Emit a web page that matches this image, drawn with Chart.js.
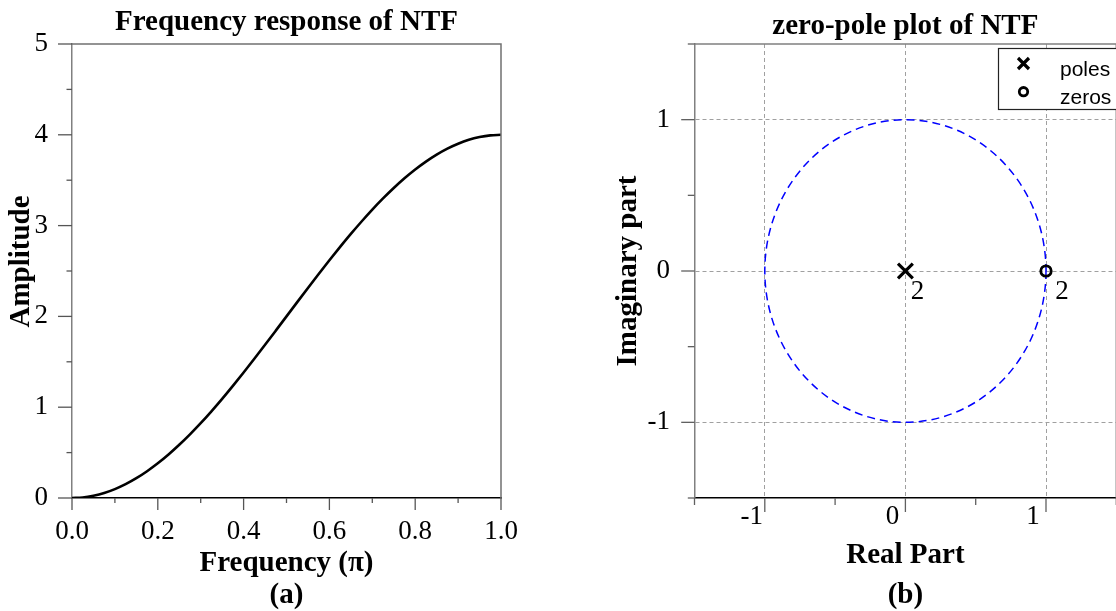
<!DOCTYPE html>
<html>
<head>
<meta charset="utf-8">
<title>NTF</title>
<script src="https://cdn.jsdelivr.net/npm/chart.js@4.4.0/dist/chart.umd.min.js"></script>
<style>
html, body { margin: 0; padding: 0; background: #fff; overflow: hidden; width: 1116px; height: 611px; }
#boxA { position: absolute; left: 0; top: 0; width: 560px; height: 620px; }
#boxB { position: absolute; left: 560px; top: 0; width: 570px; height: 620px; }
</style>
</head>
<body>
<div id="boxA"><canvas id="chartA"></canvas></div>
<div id="boxB"><canvas id="chartB"></canvas></div>
<script>
// (a) frequency response of NTF
const freq = [0, 0.025, 0.05, 0.075, 0.1, 0.125, 0.15, 0.175, 0.2, 0.225, 0.25,
              0.275, 0.3, 0.325, 0.35, 0.375, 0.4, 0.425, 0.45, 0.475, 0.5,
              0.525, 0.55, 0.575, 0.6, 0.625, 0.65, 0.675, 0.7, 0.725, 0.75,
              0.775, 0.8, 0.825, 0.85, 0.875, 0.9, 0.925, 0.95, 0.975, 1.0];
const amplitude = [0, 0.006, 0.025, 0.055, 0.098, 0.152, 0.218, 0.295, 0.382, 0.479, 0.586,
                   0.701, 0.824, 0.955, 1.092, 1.235, 1.382, 1.533, 1.687, 1.843, 2.000,
                   2.157, 2.313, 2.467, 2.618, 2.765, 2.908, 3.045, 3.176, 3.299, 3.414,
                   3.521, 3.618, 3.705, 3.782, 3.848, 3.902, 3.945, 3.975, 3.994, 4.000];
const freqTicks = [0, 0.2, 0.4, 0.6, 0.8, 1.0];
const freqMinor = [0.1, 0.3, 0.5, 0.7, 0.9];
const ampTicks = [0, 1, 2, 3, 4, 5];
const ampMinor = [0.5, 1.5, 2.5, 3.5, 4.5];

// (b) zero-pole plot
const poleRe = [0];
const poleIm = [0];
const poleMult = [2];
const zeroRe = [1];
const zeroIm = [0];
const zeroMult = [2];
const unitCircle = [0, 0, 1];   // centre re, centre im, radius
const reTicks = [-1, 0, 1];
const reMinor = [-1.5, -0.5, 0.5, 1.5];
const imTicks = [-1, 0, 1];
const imMinor = [-1.5, -0.5, 0.5, 1.5];

const serif = 'Liberation Serif';
Chart.defaults.font.family = serif;
Chart.defaults.color = '#000';

// top/right frame, major+minor tick marks, extra text
function axisFrame(cfg) {
  return {
    id: 'axisFrame',
    afterDraw(chart) {
      const {ctx, chartArea: a, scales: {x, y}} = chart;
      ctx.save();
      ctx.setLineDash([]);
      ctx.lineWidth = 1.5;
      ctx.strokeStyle = cfg.frameColor;
      ctx.beginPath();
      ctx.moveTo(a.left, a.top);
      ctx.lineTo(a.right, a.top);
      ctx.lineTo(a.right, a.bottom);
      ctx.stroke();

      ctx.lineWidth = 1.3;
      ctx.strokeStyle = cfg.tickColor;
      const mark = (scale, values, len) => values.forEach(v => {
        const p = scale.getPixelForValue(v);
        ctx.beginPath();
        if (scale.isHorizontal()) {
          ctx.moveTo(p, a.bottom);
          ctx.lineTo(p, a.bottom + len);
        } else {
          ctx.moveTo(a.left, p);
          ctx.lineTo(a.left - len, p);
        }
        ctx.stroke();
      });
      mark(x, x.ticks.map(t => t.value), cfg.xMajor);
      mark(x, cfg.xMinorValues, cfg.xMinor);
      mark(y, y.ticks.map(t => t.value), cfg.yMajor);
      mark(y, cfg.yMinorValues, cfg.yMinor);

      (cfg.texts || []).forEach(t => {
        ctx.save();
        ctx.translate(t.x, t.y);
        ctx.rotate(t.rot || 0);
        ctx.font = t.font;
        ctx.fillStyle = '#000';
        ctx.textAlign = 'center';
        ctx.textBaseline = 'middle';
        ctx.fillText(t.text, 0, 0);
        ctx.restore();
      });
      ctx.restore();
    }
  };
}

const ticksFor = list => scale => { scale.ticks = list.map(v => ({value: v})); };

new Chart(document.getElementById('chartA'), {
  type: 'line',
  data: {
    datasets: [{
      label: 'NTF',
      data: freq.map((f, i) => ({x: f, y: amplitude[i]})),
      borderColor: '#000',
      borderWidth: 2.6,
      pointRadius: 0,
      cubicInterpolationMode: 'monotone',
      fill: false
    }]
  },
  options: {
    responsive: true,
    maintainAspectRatio: false,
    animation: false,
    events: [],
    layout: {padding: {left: 0, right: 59, top: 0, bottom: 0}},
    plugins: {
      legend: {display: false},
      tooltip: {enabled: false},
      title: {
        display: true, fullSize: false,
        text: 'Frequency response of NTF',
        color: '#000',
        font: {family: serif, size: 29, weight: 'bold', lineHeight: 1.2},
        padding: {top: 5.5, bottom: 3.7}
      }
    },
    scales: {
      x: {
        type: 'linear', min: 0, max: 1,
        afterBuildTicks: ticksFor(freqTicks),
        afterFit: s => { s.height = 122; },
        ticks: {callback: v => v.toFixed(1), font: {size: 27}, color: '#000', padding: 17.5, maxRotation: 0, autoSkip: false},
        grid: {display: false, drawTicks: false},
        border: {color: '#000', width: 1.5},
        title: {
          display: true, text: ['Frequency (π)', '(a)'], color: '#000',
          font: {size: 29, weight: 'bold', lineHeight: 32 / 29},
          padding: {top: 0, bottom: 8}
        }
      },
      y: {
        type: 'linear', min: 0, max: 5,
        afterBuildTicks: ticksFor(ampTicks),
        afterFit: s => { s.width = 72; },
        ticks: {font: {size: 27}, color: '#000', padding: 24},
        grid: {display: false, drawTicks: false},
        border: {color: '#808080', width: 1.5}
      }
    }
  },
  plugins: [axisFrame({
    frameColor: '#707070', tickColor: '#555',
    xMajor: 12, xMinor: 5, yMajor: 14, yMinor: 5.5,
    xMinorValues: freqMinor, yMinorValues: ampMinor,
    texts: [{text: 'Amplitude', x: 21.7, y: 261.5, rot: -Math.PI / 2, font: 'bold 29px "Liberation Serif"'}]
  })]
});

const circlePlugin = {
  id: 'unitCircle',
  beforeDatasetsDraw(chart) {
    const {ctx, scales: {x, y}} = chart;
    const cx = x.getPixelForValue(unitCircle[0]);
    const cy = y.getPixelForValue(unitCircle[1]);
    const rx = x.getPixelForValue(unitCircle[0] + unitCircle[2]) - cx;
    const ry = cy - y.getPixelForValue(unitCircle[1] + unitCircle[2]);
    ctx.save();
    ctx.strokeStyle = '#0000ff';
    ctx.lineWidth = 1.5;
    ctx.setLineDash([8, 5]);
    ctx.beginPath();
    ctx.ellipse(cx, cy, rx, ry, 0, 0, 2 * Math.PI);
    ctx.stroke();
    ctx.restore();
  }
};

// multiplicity numbers next to the markers + boxed legend
const pzLabels = {
  id: 'pzLabels',
  afterDraw(chart) {
    const {ctx, chartArea: a, scales: {x, y}} = chart;
    ctx.save();
    ctx.fillStyle = '#000';
    ctx.font = '27px "Liberation Serif"';
    ctx.textAlign = 'center';
    ctx.textBaseline = 'middle';
    poleRe.forEach((re, i) => ctx.fillText(String(poleMult[i]), x.getPixelForValue(re) + 12, y.getPixelForValue(poleIm[i]) + 21));
    zeroRe.forEach((re, i) => ctx.fillText(String(zeroMult[i]), x.getPixelForValue(re) + 16, y.getPixelForValue(zeroIm[i]) + 21));

    // legend
    const bx = a.left + 304, by = a.top + 4.5, bw = 135, bh = 61;
    ctx.fillStyle = '#fff';
    ctx.fillRect(bx, by, bw, bh);
    ctx.strokeStyle = '#222';
    ctx.lineWidth = 1.2;
    ctx.strokeRect(bx, by, bw, bh);
    ctx.strokeStyle = '#000';
    ctx.lineWidth = 3.2;
    const mx = bx + 25;
    ctx.beginPath();
    ctx.moveTo(mx - 5.5, by + 15 - 5.5); ctx.lineTo(mx + 5.5, by + 15 + 5.5);
    ctx.moveTo(mx + 5.5, by + 15 - 5.5); ctx.lineTo(mx - 5.5, by + 15 + 5.5);
    ctx.stroke();
    ctx.lineWidth = 2.8;
    ctx.beginPath();
    ctx.arc(mx, by + 43.2, 4.2, 0, 2 * Math.PI);
    ctx.stroke();
    ctx.fillStyle = '#000';
    ctx.font = '21px "Liberation Sans"';
    ctx.textAlign = 'left';
    ctx.textBaseline = 'alphabetic';
    chart.data.datasets.forEach((ds, i) => ctx.fillText(ds.label, bx + 61.5, by + 27.5 + i * 28));
    ctx.restore();
  }
};

new Chart(document.getElementById('chartB'), {
  type: 'scatter',
  data: {
    datasets: [{
      label: 'poles',
      data: poleRe.map((re, i) => ({x: re, y: poleIm[i]})),
      pointStyle: 'crossRot',
      pointRadius: 10.5,
      borderColor: '#000',
      borderWidth: 3.2
    }, {
      label: 'zeros',
      data: zeroRe.map((re, i) => ({x: re, y: zeroIm[i]})),
      pointStyle: 'circle',
      pointRadius: 5.2,
      borderColor: '#000',
      backgroundColor: 'rgba(0,0,0,0)',
      borderWidth: 2.8
    }]
  },
  options: {
    responsive: true,
    maintainAspectRatio: false,
    animation: false,
    events: [],
    layout: {padding: {left: 0, right: 6.5, top: 0, bottom: 0}},
    plugins: {
      legend: {display: false},
      tooltip: {enabled: false},
      title: {
        display: true, fullSize: false,
        text: 'zero-pole plot of NTF',
        color: '#000',
        font: {family: serif, size: 29, weight: 'bold', lineHeight: 1.15},
        padding: {top: 10.3, bottom: 0.35}
      }
    },
    scales: {
      x: {
        type: 'linear', min: -1.5, max: 1.5,
        afterBuildTicks: ticksFor(reTicks),
        afterFit: s => { s.height = 122; },
        ticks: {font: {size: 27}, color: '#000', padding: 2.5, labelOffset: -13, maxRotation: 0, autoSkip: false},
        grid: {display: true, drawOnChartArea: true, drawTicks: false, color: '#a0a0a0', lineWidth: 1},
        border: {color: '#000', width: 1.5, dash: [4, 3]},
        title: {
          display: true, text: ['Real Part', '(b)'], color: '#000',
          font: {size: 29, weight: 'bold', lineHeight: 40 / 29},
          padding: {top: 0, bottom: 4}
        }
      },
      y: {
        type: 'linear', min: -1.5, max: 1.5,
        afterBuildTicks: ticksFor(imTicks),
        afterFit: s => { s.width = 134.5; },
        ticks: {font: {size: 27}, color: '#000', padding: 24.5},
        grid: {display: true, drawOnChartArea: true, drawTicks: false, color: '#a0a0a0', lineWidth: 1},
        border: {color: '#808080', width: 1.5, dash: [4, 3]},
        title: {
          display: true, text: 'Imaginary part', color: '#000',
          font: {size: 29, weight: 'bold', lineHeight: 1.2},
          padding: {top: 51.5, bottom: 0}
        }
      }
    }
  },
  plugins: [circlePlugin, axisFrame({
    frameColor: '#808080', tickColor: '#606060',
    xMajor: 14, xMinor: 7, yMajor: 13.3, yMinor: 6.7,
    xMinorValues: reMinor, yMinorValues: imMinor
  }), pzLabels]
});
</script>
</body>
</html>
